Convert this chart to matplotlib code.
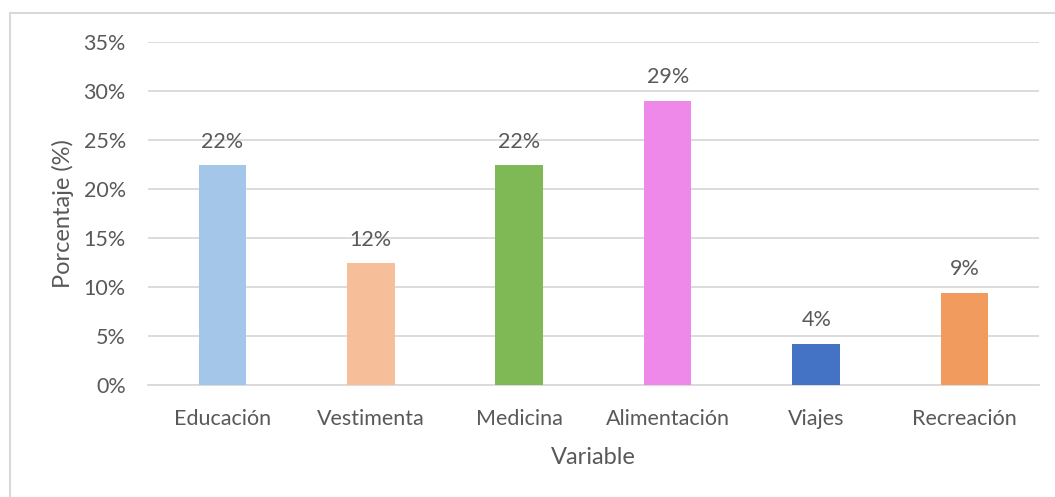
import matplotlib.pyplot as plt
from matplotlib.patches import Rectangle
from matplotlib.ticker import FuncFormatter, MultipleLocator

# gasto por variable (fraccion del total)
categories = ['Educación', 'Vestimenta', 'Medicina', 'Alimentación', 'Viajes', 'Recreación']
shares = [0.224, 0.124, 0.224, 0.290, 0.042, 0.094]
colors = ['#A4C6E8', '#F6BF99', '#7EB955', '#EF89E9', '#4472C4', '#F19B5F']

text_color = '#595959'
grid_color = '#D9D9D9'

plt.rcParams['font.family'] = ['Lato', 'DejaVu Sans']

fig = plt.figure(figsize=(10.55, 4.97), dpi=100)
ax = fig.add_axes([0.1403, 0.2254, 0.8445, 0.6901])

x = range(len(categories))
bars = ax.bar(x, shares, width=0.32, color=colors, zorder=3)

# etiquetas de porcentaje sobre cada barra
for rect, val in zip(bars, shares):
    ax.annotate(f'{val * 100:.0f}%', (rect.get_x() + rect.get_width() / 2, rect.get_height()),
                xytext=(0, 10), textcoords='offset points', ha='center', va='bottom',
                fontsize=15.5, color=text_color)

ax.set_xlim(-0.5, len(categories) - 0.5)
ax.set_ylim(0, 0.35)
ax.yaxis.set_major_locator(MultipleLocator(0.05))
ax.yaxis.set_major_formatter(FuncFormatter(lambda v, _: f'{v * 100:.0f}%'))
ax.set_xticks(list(x))
ax.set_xticklabels(categories)

ax.tick_params(axis='both', length=0, labelsize=15.5, labelcolor=text_color)
ax.tick_params(axis='y', pad=16)
ax.tick_params(axis='x', pad=17)

ax.grid(axis='y', color=grid_color, linewidth=1.3, zorder=0)
for side in ['top', 'right', 'left']:
    ax.spines[side].set_visible(False)
ax.spines['bottom'].set_color(grid_color)
ax.spines['bottom'].set_linewidth(1.3)

ax.set_ylabel('Porcentaje (%)', fontsize=17, color=text_color, labelpad=7)
ax.set_xlabel('Variable', fontsize=17, color=text_color, labelpad=13)

# marco exterior del grafico
fig.patches.append(Rectangle((10 / 1055, -0.1), 1.2, 1 - 12.5 / 497 + 0.1,
                             transform=fig.transFigure, fill=False,
                             edgecolor=grid_color, linewidth=1.5))

fig.savefig('out.png', dpi=100)
